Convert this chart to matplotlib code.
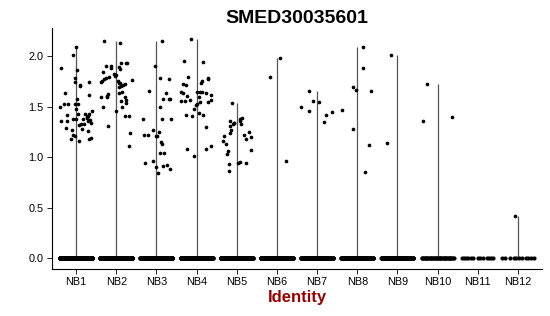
import matplotlib
matplotlib.use('Agg')
import matplotlib.pyplot as plt
import numpy as np

plt.rcParams['font.family'] = ['Liberation Sans', 'DejaVu Sans']

groups = ['NB1', 'NB2', 'NB3', 'NB4', 'NB5', 'NB6',
          'NB7', 'NB8', 'NB9', 'NB10', 'NB11', 'NB12']

# expressed cells: value and jitter offset
nb1_val = [1.88, 2.01, 2.09, 1.86, 1.78, 1.74, 1.71, 1.70, 1.74, 1.64, 1.50, 1.53,
           1.53, 1.53, 1.53, 1.58, 1.48, 1.62, 1.42, 1.36, 1.36, 1.38, 1.38, 1.43,
           1.33, 1.32, 1.38, 1.43, 1.39, 1.41, 1.43, 1.46, 1.36, 1.37, 1.34, 1.29,
           1.27, 1.28, 1.26, 1.18, 1.22, 1.21, 1.16, 1.18, 1.19, 1.40, 1.33]
nb1_off = [-0.38, -0.07, 0.01, 0.03, -0.02, -0.03, 0.09, 0.11, 0.33, -0.28, -0.40, -0.31,
           -0.19, -0.03, 0.05, 0.03, 0.00, 0.33, -0.23, -0.37, -0.22, -0.07, 0.00, 0.05,
           0.12, 0.08, 0.17, 0.22, 0.26, 0.30, 0.32, 0.40, 0.30, 0.34, 0.37, -0.25,
           -0.10, 0.14, 0.30, -0.12, -0.07, -0.03, 0.07, 0.31, 0.36, 0.26, 0.20]

nb2_val = [2.15, 2.13, 1.90, 1.84, 1.90, 1.88, 1.89, 1.93, 1.87, 1.93, 1.93, 1.75,
           1.74, 1.77, 1.78, 1.79, 1.82, 1.80, 1.81, 1.75, 1.73, 1.73, 1.70, 1.71,
           1.72, 1.76, 1.63, 1.61, 1.60, 1.60, 1.64, 1.69, 1.65, 1.60, 1.57, 1.50,
           1.46, 1.50, 1.41, 1.41, 1.31, 1.24, 1.11, 1.56, 1.54]
nb2_off = [-0.30, 0.09, -0.26, -0.32, -0.14, -0.12, 0.07, 0.12, 0.10, 0.24, 0.27, -0.36,
           -0.39, -0.30, -0.26, -0.17, -0.06, -0.02, 0.00, 0.04, 0.07, 0.09, 0.13, 0.17,
           0.21, 0.38, -0.21, -0.22, -0.24, -0.38, 0.07, 0.07, 0.15, 0.22, 0.24, -0.32,
           -0.01, 0.14, 0.21, 0.31, -0.20, 0.34, 0.32, 0.13, 0.25]

nb3_val = [2.15, 1.90, 1.66, 1.78, 1.77, 1.64, 1.58, 1.58, 1.58, 1.50, 1.38, 1.38,
           1.38, 1.27, 1.25, 1.22, 1.22, 1.21, 1.21, 1.15, 1.13, 1.04, 1.04, 0.94,
           0.96, 0.90, 0.84, 0.91, 0.92, 0.88]
nb3_off = [0.13, -0.04, -0.18, 0.08, 0.31, 0.23, 0.17, 0.31, 0.34, 0.10, -0.33, 0.15,
           0.36, -0.08, 0.07, -0.31, -0.22, -0.02, 0.02, 0.11, 0.13, 0.09, 0.20, -0.29,
           -0.09, 0.00, 0.04, 0.16, 0.26, 0.35]

nb4_val = [2.17, 1.95, 1.79, 1.94, 1.71, 1.65, 1.64, 1.61, 1.56, 1.56, 1.57, 1.65,
           1.65, 1.65, 1.60, 1.73, 1.75, 1.78, 1.77, 1.64, 1.62, 1.57, 1.53, 1.55,
           1.48, 1.52, 1.42, 1.41, 1.44, 1.42, 1.55, 1.30, 1.08, 1.01, 1.08, 1.11, 1.72]
nb4_off = [-0.14, -0.31, -0.21, 0.17, -0.27, -0.38, -0.33, -0.25, -0.29, -0.39, -0.16, 0.00,
           0.08, 0.14, 0.07, 0.11, 0.14, 0.29, 0.28, 0.23, 0.36, 0.37, 0.02, 0.09,
           -0.06, -0.01, -0.26, -0.12, 0.06, 0.17, 0.29, 0.23, -0.23, -0.06, 0.23, 0.36, -0.35]

nb5_val = [1.54, 1.16, 1.21, 1.13, 1.06, 1.03, 0.93, 0.86, 1.24, 1.31, 1.36, 1.27,
           1.33, 1.34, 1.38, 1.39, 1.36, 1.33, 1.22, 1.18, 1.25, 1.20, 1.07, 0.94,
           0.95, 0.94, 1.34]
nb5_off = [-0.12, -0.35, -0.32, -0.28, -0.22, -0.24, -0.19, -0.20, -0.17, -0.17, -0.17, -0.15,
           -0.09, -0.06, 0.08, 0.12, 0.07, 0.10, 0.17, 0.24, 0.30, 0.36, 0.35, 0.04,
           0.08, 0.22, -0.08]

nb6_val = [1.79, 1.98, 0.96]
nb6_off = [-0.18, 0.07, 0.22]
nb7_val = [1.66, 1.50, 1.46, 1.56, 1.55, 1.42, 1.35, 1.45]
nb7_off = [-0.21, -0.40, -0.21, -0.10, 0.05, 0.21, 0.18, 0.36]
nb8_val = [1.47, 1.69, 1.67, 2.09, 1.88, 1.66, 1.28, 1.12, 0.85]
nb8_off = [-0.38, -0.10, -0.04, 0.14, 0.15, 0.34, -0.11, 0.30, 0.19]
nb9_val = [2.01, 1.14]
nb9_off = [-0.16, -0.26]
nb10_val = [1.72, 1.36, 1.40]
nb10_off = [-0.27, -0.37, 0.36]
nb11_val = []
nb11_off = []
nb12_val = [0.42]
nb12_off = [-0.07]

# cells with zero expression per identity
zero_counts = [600, 500, 500, 600, 400, 300, 250, 250, 200, 40, 13, 11]
nb11_zero_off = [-0.40, -0.35, -0.30, -0.25, -0.17, -0.12, 0.0, 0.05, 0.12,
                 0.22, 0.27, 0.32, 0.38]
nb12_zero_off = [-0.39, -0.31, -0.19, -0.11, -0.04, 0.03, 0.11, 0.19, 0.26, 0.32, 0.41]

values = [nb1_val, nb2_val, nb3_val, nb4_val, nb5_val, nb6_val,
          nb7_val, nb8_val, nb9_val, nb10_val, nb11_val, nb12_val]
offsets = [nb1_off, nb2_off, nb3_off, nb4_off, nb5_off, nb6_off,
           nb7_off, nb8_off, nb9_off, nb10_off, nb11_off, nb12_off]

fig = plt.figure(figsize=(5.5, 3.16), dpi=100)
ax = fig.add_axes([0.0945, 0.149, 0.891, 0.762])

for i, g in enumerate(groups):
    xpos = i + 1
    top = max(values[i]) if values[i] else 0
    if top > 0:
        ax.vlines(xpos, 0, top, color='#555555', linewidth=0.9, zorder=1)
    if g == 'NB11':
        zoff = np.array(nb11_zero_off)
    elif g == 'NB12':
        zoff = np.array(nb12_zero_off)
    else:
        zoff = np.linspace(-0.4, 0.4, zero_counts[i])
    ax.scatter(xpos + zoff, np.zeros(len(zoff)), s=9, color='black',
               linewidths=0, zorder=2)
    if values[i]:
        ax.scatter(xpos + np.array(offsets[i]), values[i], s=7, color='black',
                   linewidths=0, zorder=2)

ax.set_xlim(0.4, 12.6)
ax.set_ylim(-0.1085, 2.2785)
ax.set_xticks(range(1, len(groups) + 1))
ax.set_xticklabels(groups)
ax.set_yticks([0, 0.5, 1.0, 1.5, 2.0])
ax.set_yticklabels(['0.0', '0.5', '1.0', '1.5', '2.0'])

ax.spines['top'].set_visible(False)
ax.spines['right'].set_visible(False)
ax.spines['left'].set_linewidth(0.8)
ax.spines['bottom'].set_linewidth(0.8)
ax.tick_params(axis='both', length=3.5, width=0.6, labelsize=7.8,
               colors='black', pad=2.5)

ax.set_xlabel('Identity', fontsize=12, fontweight='bold', color='#990000',
              labelpad=2)
ax.set_title('SMED30035601', fontsize=14, fontweight='bold', pad=4)

fig.savefig('out.png', dpi=100)
